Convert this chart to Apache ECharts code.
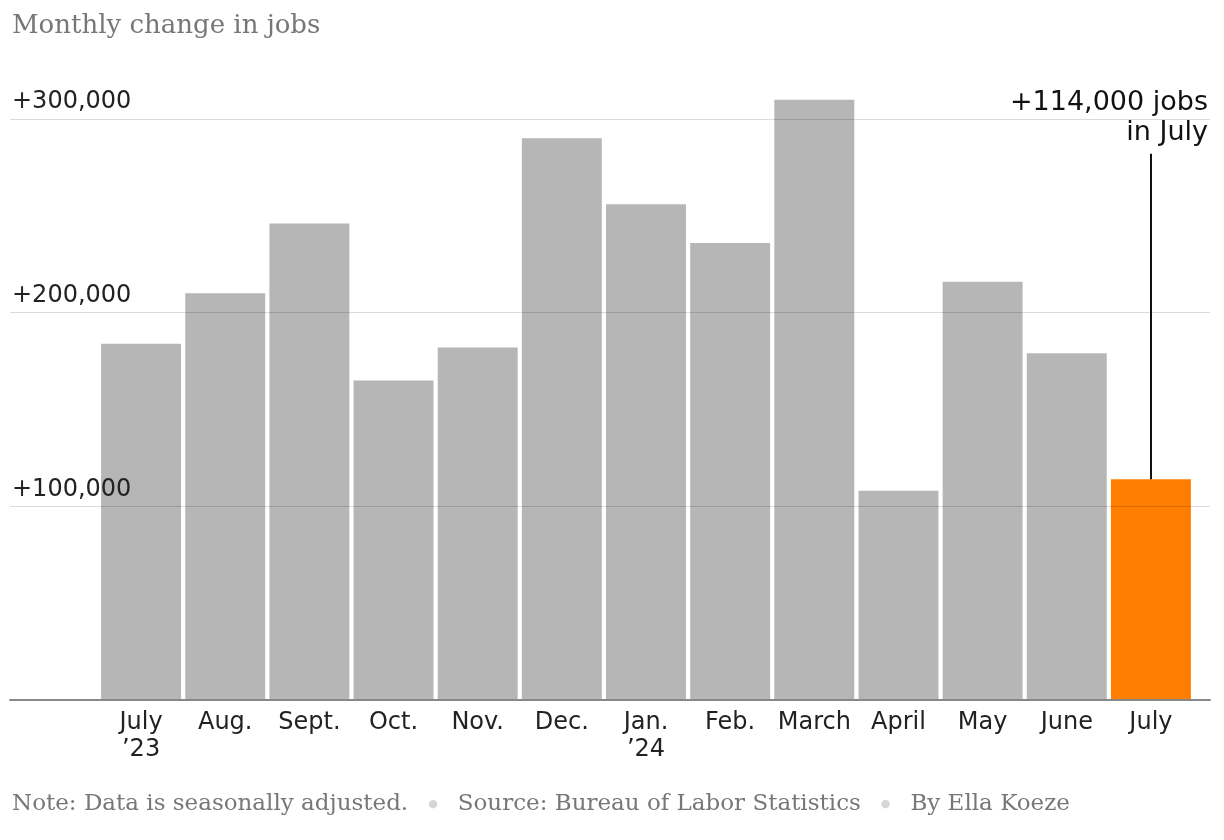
<!DOCTYPE html>
<html><head><meta charset="utf-8">
<script src="https://cdn.jsdelivr.net/npm/echarts@6/dist/echarts.min.js"></script>
<style>html,body{margin:0;padding:0;background:#fff}#c{width:1224px;height:840px}</style>
</head><body><div id="c"></div>
<script>
const categories = ["July\n\u201923","Aug.","Sept.","Oct.","Nov.","Dec.","Jan.\n\u201924","Feb.","March","April","May","June","July"];
const jobs = [184000,210000,246000,165000,182000,290000,256000,236000,310000,108000,216000,179000,114000];
const highlightIndex = 12;
const yTicks = [0,100000,200000,300000];
const annotationLines = ["+114,000 jobs","in July"];
const annotationTop = 282000;

const sans = "'DejaVu Sans', 'Liberation Sans', sans-serif";
const serif = "'DejaVu Serif', 'Liberation Serif', serif";
const chart = echarts.init(document.getElementById('c'), null, {renderer:'canvas'});
const plotBottom = 140;
const yMaxTop = yTicks[yTicks.length-1];
const barMax = 320000;
const pxPer = (700-119)/yMaxTop;
const barTop = 700 - barMax*pxPer;

chart.setOption({
  animation:false,
  title:{text:"Monthly change in jobs", left:7, top:8,
    textStyle:{fontFamily:serif, fontSize:26, fontWeight:'normal', color:'#777'}},
  grid:[
    {left:10, right:14, top:119, bottom:plotBottom},
    {left:99, right:31, top:barTop, bottom:plotBottom}
  ],
  xAxis:[
    {gridIndex:0, type:'category', data:categories, show:true, axisLine:{show:true, lineStyle:{color:'#888', width:2}}, axisTick:{show:false}, axisLabel:{show:false}, z:5},
    {gridIndex:1, type:'category', data:categories, axisLine:{show:false}, axisTick:{show:false},
      axisLabel:{interval:0, color:'#222', fontFamily:sans, fontSize:24, lineHeight:27, margin:9}}
  ],
  yAxis:[
    {gridIndex:0, type:'value', min:0, max:yMaxTop, interval:100000, z:4,
      axisLine:{show:false}, axisTick:{show:false},
      splitLine:{show:true, lineStyle:{color:'rgba(0,0,0,0.14)', width:1}},
      axisLabel:{inside:true, margin:2, showMinLabel:false, verticalAlign:'bottom', padding:[0,0,5,0],
        color:'#222', fontFamily:sans, fontSize:24,
        formatter:v=>'+'+v.toLocaleString('en-US')}},
    {gridIndex:1, type:'value', min:0, max:barMax, show:false, splitLine:{show:false}}
  ],
  series:[{
    type:'bar', xAxisIndex:1, yAxisIndex:1, barCategoryGap:'5%', z:2,
    data:jobs.map((v,i)=>({value:v, itemStyle:{color: i===highlightIndex ? '#ff7e00' : '#b6b6b6'}})),
    markLine:{symbol:'none', silent:true, label:{show:false},
      lineStyle:{color:'#111', width:2, type:'solid'},
      data:[[{coord:[highlightIndex, jobs[highlightIndex]]},{coord:[highlightIndex, annotationTop]}]]}
  }],
  graphic:[
    {type:'text', x:1208, y:89, z:10, style:{text:annotationLines[0], font:"27px 'DejaVu Sans'", align:'right', verticalAlign:'top', fill:'#111', backgroundColor:'#fff', padding:[0,0,0,15]}},
    {type:'text', x:1208, y:119, z:10, style:{text:annotationLines[1], font:"27px 'DejaVu Sans'", align:'right', verticalAlign:'top', fill:'#111'}},
    {type:'text', left:12, top:793, style:{
      rich:{t:{fontFamily:serif, fontSize:23, fill:'#777'}, d:{fontSize:11, fill:'#d6d6d6', fontFamily:sans, padding:[0,20,0,20]}},
      text:"{t|Note: Data is seasonally adjusted.}{d|\u25CF}{t|Source: Bureau of Labor Statistics}{d|\u25CF}{t|By Ella Koeze}"}}
  ]
});
</script></body></html>
